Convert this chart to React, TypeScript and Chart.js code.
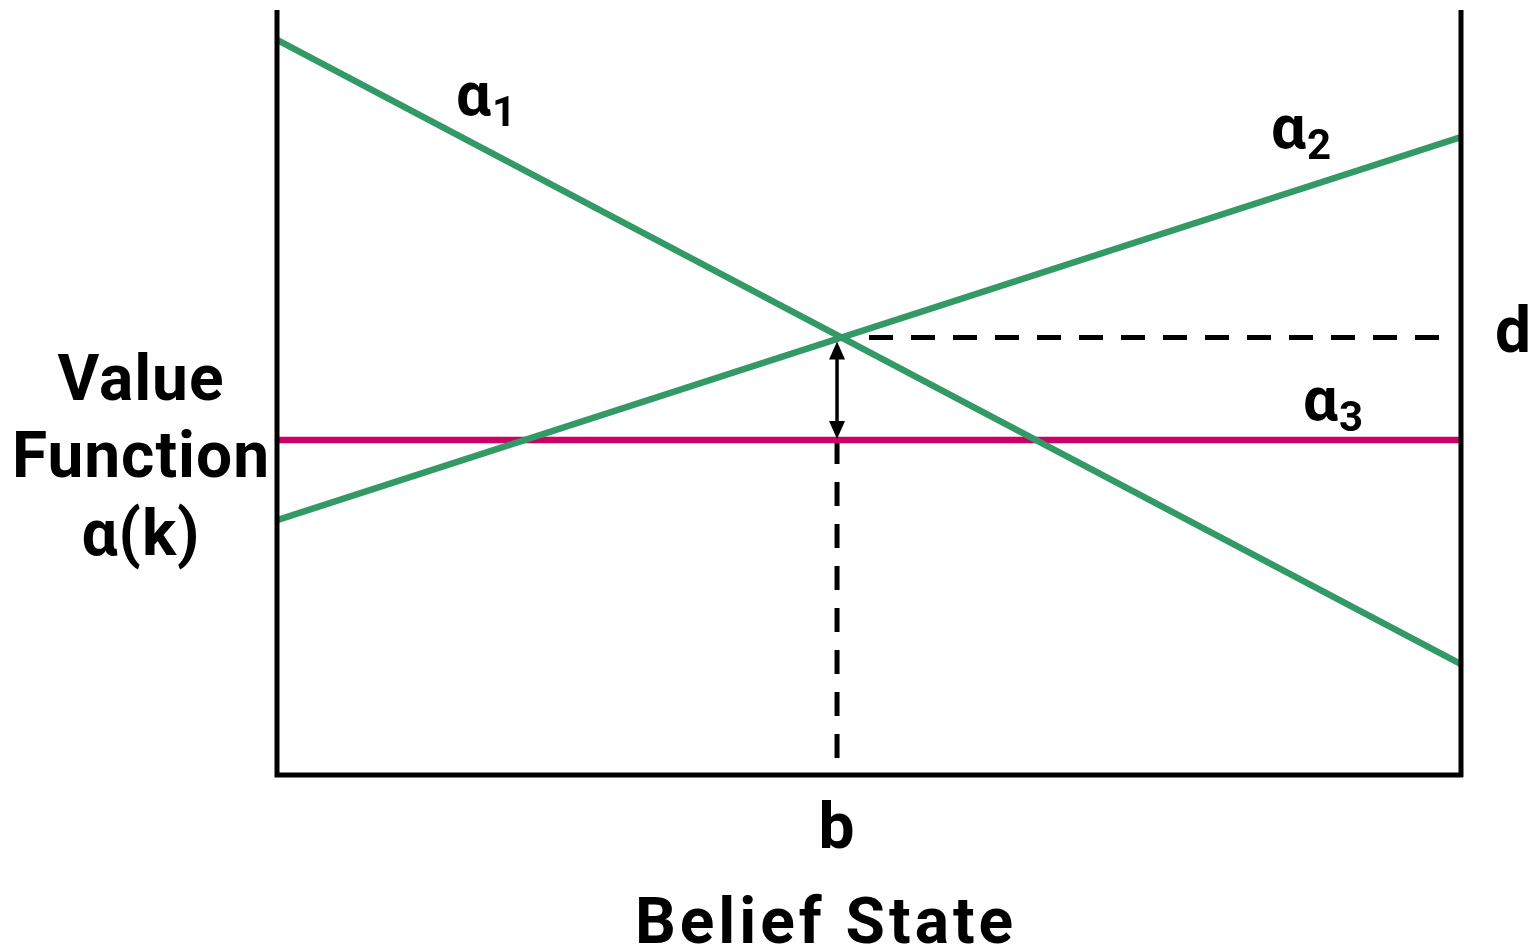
import React, { useEffect, useRef } from "react";
import { Chart, registerables } from "chart.js";

Chart.register(...registerables);

// ---- data ----
const beliefX = [0, 1];
const alpha1 = [9.61, 1.45];
const alpha2 = [3.33, 8.34];
const alpha3 = [4.38, 4.38];
const bPoint = 0.473; // belief state b
const dValue = 5.72; // value d at b
const dashStartX = 0.5;
const dashEndX = 0.993;
const seriesLabels = ["α", "α", "α"];
const seriesSubs = ["1", "2", "3"];
const xTickLabel = "b";
const dLabel = "d";
const xTitle = "Belief State";
const yTitleLines = ["Value", "Function", "α(k)"];

const GREEN = "#339966";
const MAGENTA = "#cc0066";
const FONT = "Roboto, 'DejaVu Sans', sans-serif";

const annotations = {
  id: "annotations",
  afterDatasetsDraw(chart: any) {
    const { ctx, chartArea, scales } = chart;
    const xs = scales.x;
    const ys = scales.y;
    ctx.save();
    // box axes
    ctx.strokeStyle = "#000";
    ctx.lineWidth = 5;
    ctx.lineCap = "butt";
    ctx.beginPath();
    ctx.moveTo(chartArea.left, chartArea.top);
    ctx.lineTo(chartArea.left, chartArea.bottom);
    ctx.lineTo(chartArea.right + 2, chartArea.bottom);
    ctx.moveTo(chartArea.right, chartArea.top);
    ctx.lineTo(chartArea.right, chartArea.bottom + 2);
    ctx.stroke();

    // double arrow
    const ax = xs.getPixelForValue(bPoint);
    const ayTop = ys.getPixelForValue(dValue) + 4;
    const ayBot = ys.getPixelForValue(alpha3[0]) - 1;
    ctx.lineWidth = 3.5;
    ctx.beginPath();
    ctx.moveTo(ax, ayTop + 10);
    ctx.lineTo(ax, ayBot - 10);
    ctx.stroke();
    ctx.fillStyle = "#000";
    ctx.beginPath();
    ctx.moveTo(ax, ayTop);
    ctx.lineTo(ax - 8, ayTop + 18);
    ctx.lineTo(ax + 8, ayTop + 18);
    ctx.closePath();
    ctx.fill();
    ctx.beginPath();
    ctx.moveTo(ax, ayBot);
    ctx.lineTo(ax - 8, ayBot - 18);
    ctx.lineTo(ax + 8, ayBot - 18);
    ctx.closePath();
    ctx.fill();

    // texts
    ctx.fillStyle = "#000";
    ctx.textBaseline = "alphabetic";
    ctx.font = `bold 64px ${FONT}`;
    ctx.textAlign = "center";
    const yLineBase = [400, 477, 555];
    (ctx as any).letterSpacing = "1px";
    yTitleLines.forEach((t, i) => ctx.fillText(t, 141, yLineBase[i]));
    ctx.fillText(xTickLabel, ax, 848);
    (ctx as any).letterSpacing = "4px";
    ctx.fillText(xTitle, 826, 943);
    (ctx as any).letterSpacing = "0px";
    ctx.textAlign = "left";
    ctx.fillText(dLabel, 1495, 352);

    // series labels
    const pos = [
      [456, 115],
      [1271, 148],
      [1303, 420],
    ];
    seriesLabels.forEach((a, i) => {
      const [px, py] = pos[i];
      ctx.font = `bold 62px ${FONT}`;
      ctx.fillText(a, px, py);
      const w = ctx.measureText(a).width;
      ctx.font = `bold 42px ${FONT}`;
      ctx.fillText(seriesSubs[i], px + w + 1, py + 11);
    });
    ctx.restore();
  },
};

export default function App() {
  const ref = useRef<HTMLCanvasElement>(null);
  useEffect(() => {
    if (!ref.current) return;
    const pts = (ys: number[]) => beliefX.map((x, i) => ({ x, y: ys[i] }));
    const chart = new Chart(ref.current, {
      type: "line",
      data: {
        datasets: [
          {
            label: "α1",
            data: pts(alpha1),
            borderColor: GREEN,
            borderWidth: 6.5,
            pointRadius: 0,
          },
          {
            label: "α2",
            data: pts(alpha2),
            borderColor: GREEN,
            borderWidth: 6.5,
            pointRadius: 0,
          },
          {
            label: "α3",
            data: pts(alpha3),
            borderColor: MAGENTA,
            borderWidth: 6.5,
            pointRadius: 0,
          },
          {
            label: "d",
            data: [
              { x: dashStartX, y: dValue },
              { x: dashEndX, y: dValue },
            ],
            borderColor: "#000",
            borderWidth: 5,
            borderDash: [24, 18],
            pointRadius: 0,
          },
          {
            label: "b",
            data: [
              { x: bPoint, y: alpha3[0] },
              { x: bPoint, y: 0 },
            ],
            borderColor: "#000",
            borderWidth: 5,
            borderDash: [24, 18],
            pointRadius: 0,
          },
        ],
      },
      options: {
        animation: false,
        responsive: false,
        maintainAspectRatio: false,
        layout: { padding: { left: 277, right: 74, top: 10, bottom: 175 } },
        plugins: { legend: { display: false }, tooltip: { enabled: false } },
        scales: {
          x: { type: "linear", min: 0, max: 1, display: false },
          y: { type: "linear", min: 0, max: 10, display: false },
        },
      },
      plugins: [annotations],
    });
    return () => chart.destroy();
  }, []);
  return (
    <div style={{ position: "absolute", left: 0, top: 0, width: 1535, height: 950, background: "#fff" }}>
      <canvas ref={ref} width={1535} height={950} style={{ width: 1535, height: 950 }} />
    </div>
  );
}
